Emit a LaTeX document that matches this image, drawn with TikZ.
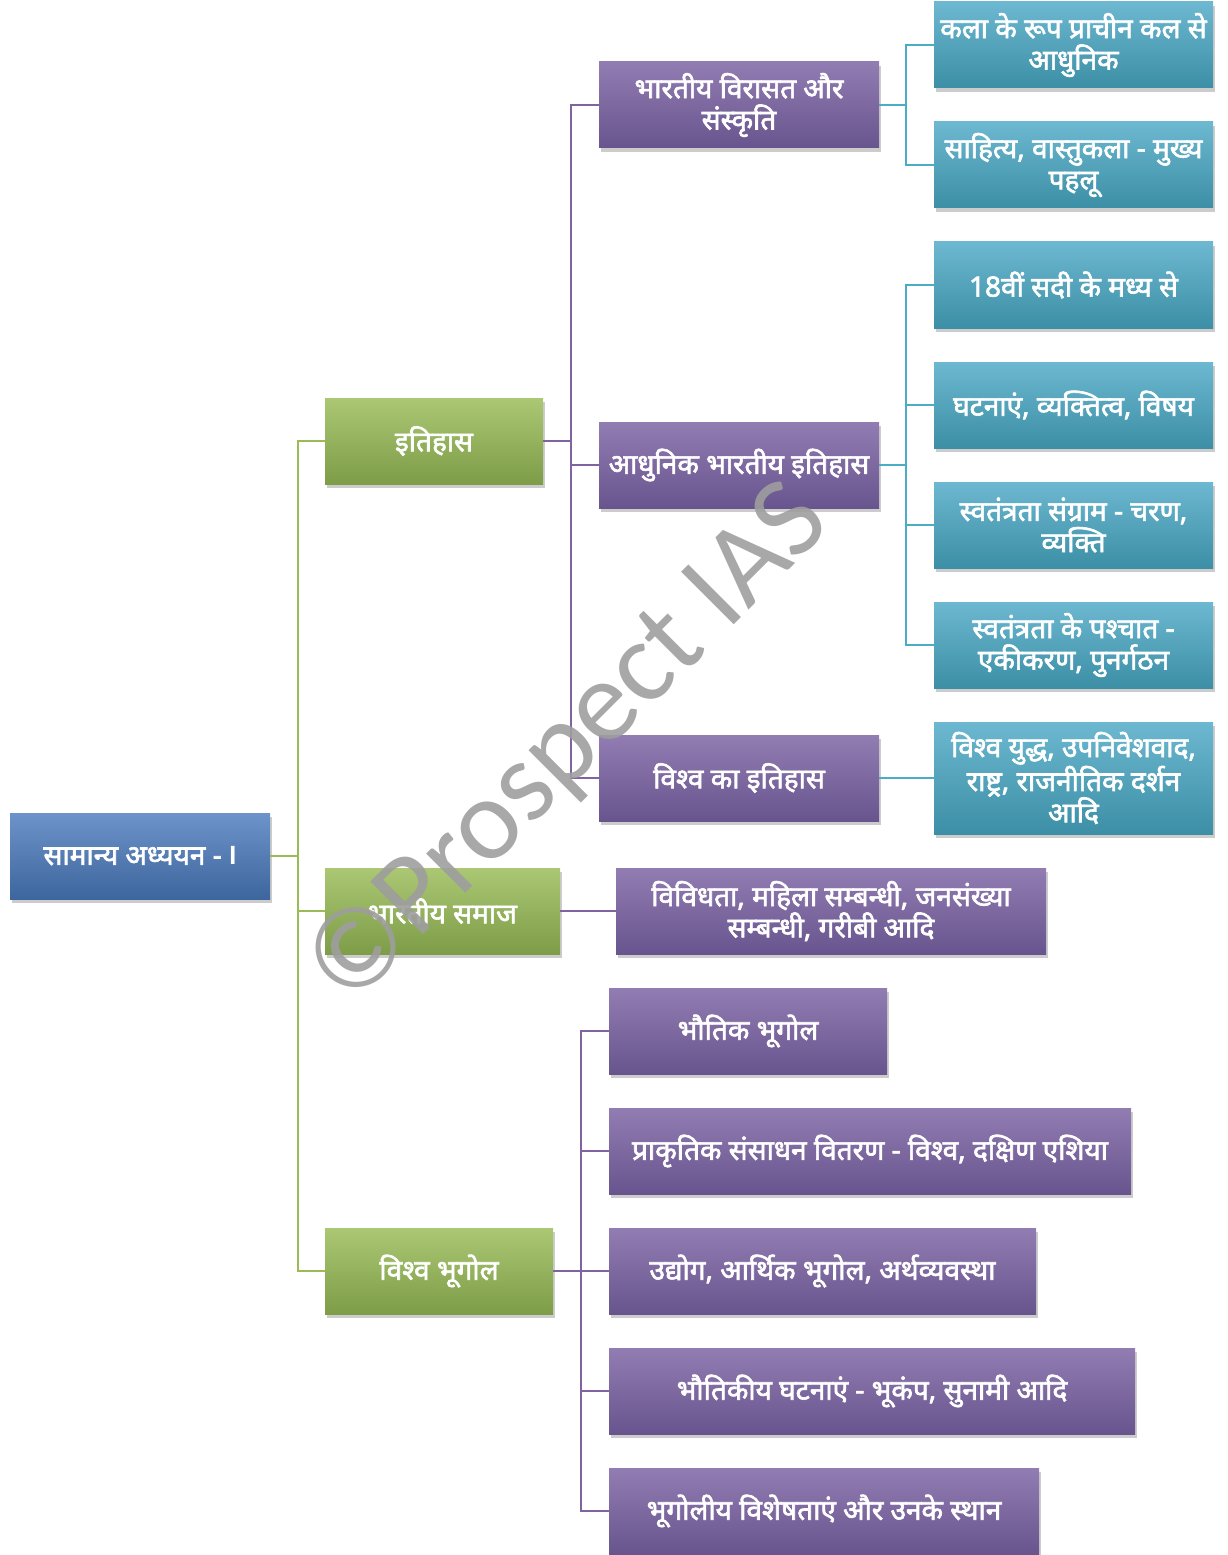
\documentclass[tikz,border=0pt]{standalone}
\usepackage{fontspec}
\newfontfamily\hindi[Script=Devanagari, FakeBold=2.2]{Noto Sans}
\newfontfamily\markfont{Carlito}
\usetikzlibrary{shadows}

\definecolor{bluetop}{HTML}{6C94CA}
\definecolor{bluebot}{HTML}{3E669E}
\definecolor{greentop}{HTML}{ABC774}
\definecolor{greenbot}{HTML}{7E9D48}
\definecolor{purpletop}{HTML}{917DB2}
\definecolor{purplebot}{HTML}{69558E}
\definecolor{tealtop}{HTML}{6CB8D0}
\definecolor{tealbot}{HTML}{3C8FA6}
\definecolor{greenline}{HTML}{9BBB59}
\definecolor{purpleline}{HTML}{8064A2}
\definecolor{tealline}{HTML}{4BACC6}

\tikzset{
  box/.style={rectangle, minimum height=64.5pt, align=center, text=white, inner sep=2pt,
    font=\hindi\fontsize{21}{23.5}\selectfont,
    drop shadow={shadow xshift=1.5pt, shadow yshift=-3pt, opacity=0.4}},
  rootbox/.style={box, top color=bluetop, bottom color=bluebot},
  greenbox/.style={box, top color=greentop, bottom color=greenbot},
  purplebox/.style={box, top color=purpletop, bottom color=purplebot},
  tealbox/.style={box, top color=tealtop, bottom color=tealbot, minimum width=209.25pt},
  gline/.style={draw=greenline, line width=1.5pt},
  pline/.style={draw=purpleline, line width=1.5pt},
  tline/.style={draw=tealline, line width=1.5pt}
}

\begin{document}
\begin{tikzpicture}[x=0.75pt, y=-0.75pt]
\useasboundingbox (0,0) rectangle (1227,1555);

% Root
\node[rootbox, minimum width=195pt] (gs) at (140,856) {सामान्य अध्ययन - {\markfont\bfseries I}};

% Main subjects
\node[greenbox, minimum width=163.5pt] (itihas) at (434,441) {इतिहास};
\node[greenbox, minimum width=176.25pt] (samaj) at (442.5,911) {भारतीय समाज};
\node[greenbox, minimum width=171pt] (bhugol) at (439,1271) {विश्व भूगोल};

\draw[gline] (gs.east) -- ++(28,0) coordinate (gsj);
\foreach \n in {itihas, samaj, bhugol} {
    \draw[gline] (gsj) |- (\n.west);
}

% History
\node[purplebox, minimum width=210pt] (virasat) at (739,105) {भारतीय विरासत और\\संस्कृति};
\node[purplebox, minimum width=210pt] (adhunik) at (739,465) {आधुनिक भारतीय इतिहास};
\node[purplebox, minimum width=210pt] (vishwa) at (739,778) {विश्व का इतिहास};

\draw[pline] (itihas.east) -- ++(28,0) coordinate (itj);
\foreach \n in {virasat, adhunik, vishwa} {
    \draw[pline] (itj) |- (\n.west);
}

% Heritage and culture
\node[tealbox] (kala) at (1073.5,45) {कला के रूप प्राचीन कल से\\आधुनिक};
\node[tealbox] (sahitya) at (1073.5,165) {साहित्य, वास्तुकला - मुख्य\\पहलू};
\draw[tline] (virasat.east) -- ++(27,0) coordinate (vj);
\draw[tline] (vj) |- (kala.west);
\draw[tline] (vj) |- (sahitya.west);

% Modern Indian history
\draw[tline] (adhunik.east) -- ++(27,0) coordinate (aj);
\foreach \n/\y/\t in {sadi/285/{18वीं सदी के मध्य से},
                      ghatna/405/{घटनाएं, व्यक्तित्व, विषय},
                      sangram/525/{स्वतंत्रता संग्राम - चरण,\\व्यक्ति},
                      pashchat/645/{स्वतंत्रता के पश्चात -\\एकीकरण, पुनर्गठन}} {
    \node[tealbox] (\n) at (1073.5,\y) {\t};
    \draw[tline] (aj) |- (\n.west);
}

% World history
\node[tealbox, minimum height=84pt] (yuddh) at (1073.5,778) {विश्व युद्ध, उपनिवेशवाद,\\राष्ट्र, राजनीतिक दर्शन\\आदि};
\draw[tline] (vishwa.east) -- (yuddh.west);

% Indian society
\node[purplebox, minimum width=322.5pt] (vividh) at (831,911) {विविधता, महिला सम्बन्धी, जनसंख्या\\सम्बन्धी, गरीबी आदि};
\draw[pline] (samaj.east) -- (vividh.west);

% World geography
\node[purplebox, minimum width=208.5pt] (bhautik) at (748,1031) {भौतिक भूगोल};
\node[purplebox, minimum width=391.5pt] (sansadhan) at (870,1151) {प्राकृतिक संसाधन वितरण - विश्व, दक्षिण एशिया};
\node[purplebox, minimum width=320.25pt] (udyog) at (822.5,1271) {उद्योग, आर्थिक भूगोल, अर्थव्यवस्था};
\node[purplebox, minimum width=394.5pt] (ghatnaen) at (872,1391) {भौतिकीय घटनाएं - भूकंप, सुनामी आदि};
\node[purplebox, minimum width=322.5pt] (visheshta) at (824,1511) {भूगोलीय विशेषताएं और उनके स्थान};

\draw[pline] (bhugol.east) -- ++(28,0) coordinate (bj);
\foreach \n in {bhautik, sansadhan, udyog, ghatnaen, visheshta} {
    \draw[pline] (bj) |- (\n.west);
}

% Watermark
\node[rotate=45, text=black!38, opacity=0.9, font=\markfont\fontsize{87}{87}\selectfont] (mark) at (570,746) {©Prospect IAS};

\end{tikzpicture}
\end{document}
